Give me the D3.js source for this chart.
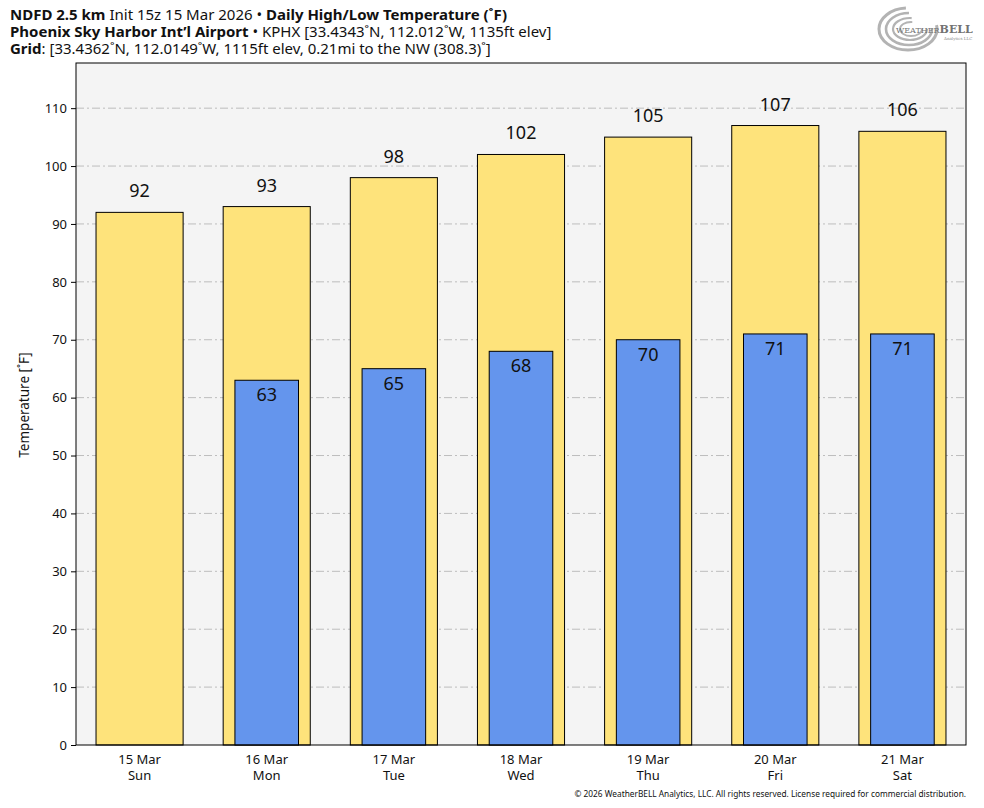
<!DOCTYPE html>
<html>
<head>
<meta charset="utf-8">
<script src="https://cdn.jsdelivr.net/npm/d3@7"></script>
<style>
  body { margin: 0; background: #fff; }
  text { font-family: 'Noto Sans', sans-serif; }
</style>
</head>
<body>
<div id="chart"></div>
<script>
// Data
var dates = ["15 Mar", "16 Mar", "17 Mar", "18 Mar", "19 Mar", "20 Mar", "21 Mar"];
var weekdays = ["Sun", "Mon", "Tue", "Wed", "Thu", "Fri", "Sat"];
var highs = [92, 93, 98, 102, 105, 107, 106];
var lows = [null, 63, 65, 68, 70, 71, 71];
var yTicks = [0, 10, 20, 30, 40, 50, 60, 70, 80, 90, 100, 110];

var W = 984, H = 808;
var margin = {top: 63, right: 18, bottom: 63, left: 76};
var width = W - margin.left - margin.right;
var height = H - margin.top - margin.bottom;

var svg = d3.select("#chart").append("svg")
    .attr("width", W)
    .attr("height", H);

//Scales
var x = d3.scaleBand().domain(d3.range(dates.length)).range([0, width]);
var y = d3.scaleLinear().domain([0, 117.8]).range([height, 0]);

var g = svg.append("g")
    .attr("transform", "translate(" + margin.left + "," + margin.top + ")");

//Plot background
g.append("rect")
    .attr("width", width)
    .attr("height", height)
    .attr("fill", "#f4f4f4");

//Grid
g.selectAll(".grid")
    .data(yTicks.slice(1))
    .enter().append("line")
    .attr("class", "grid")
    .attr("x1", 0).attr("x2", width)
    .attr("y1", function(d) { return y(d); })
    .attr("y2", function(d) { return y(d); })
    .attr("stroke", "#bdbdbd")
    .attr("stroke-width", 1)
    .attr("stroke-dasharray", "8,3,2,3");

var hw = x.bandwidth() * 0.685;
var lw = x.bandwidth() * 0.5;

//High bars
g.selectAll(".high")
    .data(highs)
    .enter().append("rect")
    .attr("class", "high")
    .attr("x", function(d, i) { return x(i) + (x.bandwidth() - hw) / 2; })
    .attr("y", function(d) { return y(d); })
    .attr("width", hw)
    .attr("height", function(d) { return height - y(d); })
    .attr("fill", "#fee37b")
    .attr("stroke", "#000")
    .attr("stroke-width", 1);

//Low bars
var lowData = lows.map(function(d, i) { return {v: d, i: i}; }).filter(function(d) { return d.v != null; });
g.selectAll(".low")
    .data(lowData)
    .enter().append("rect")
    .attr("class", "low")
    .attr("x", function(d) { return x(d.i) + (x.bandwidth() - lw) / 2; })
    .attr("y", function(d) { return y(d.v); })
    .attr("width", lw)
    .attr("height", function(d) { return height - y(d.v); })
    .attr("fill", "#6495ed")
    .attr("stroke", "#000")
    .attr("stroke-width", 1);

//Value labels
g.selectAll(".hlabel")
    .data(highs)
    .enter().append("text")
    .attr("x", function(d, i) { return x(i) + x.bandwidth() / 2; })
    .attr("y", function(d) { return y(d) - 15; })
    .attr("text-anchor", "middle")
    .style("font-size", "18px")
    .attr("fill", "#111")
    .text(function(d) { return d; });

g.selectAll(".llabel")
    .data(lowData)
    .enter().append("text")
    .attr("x", function(d) { return x(d.i) + x.bandwidth() / 2; })
    .attr("y", function(d) { return y(d.v) + 21; })
    .attr("text-anchor", "middle")
    .style("font-size", "18px")
    .attr("fill", "#111")
    .text(function(d) { return d.v; });

//Frame
g.append("rect")
    .attr("width", width)
    .attr("height", height)
    .attr("fill", "none")
    .attr("stroke", "#000")
    .attr("stroke-width", 1);

//Axes
var yAxis = d3.axisLeft(y).tickValues(yTicks).tickSize(5).tickPadding(4);
g.append("g")
    .attr("class", "y axis")
    .call(yAxis)
    .call(function(s) {
      s.select(".domain").remove();
      s.selectAll("text").style("font-size", "13px").style("font-family", "'Noto Sans', sans-serif").attr("fill", "#111");
    });

var xAxis = d3.axisBottom(x).tickSize(0).tickPadding(7).tickFormat(function() { return ""; });
var xg = g.append("g")
    .attr("class", "x axis")
    .attr("transform", "translate(0," + height + ")")
    .call(xAxis);
xg.select(".domain").remove();
xg.selectAll(".tick").each(function(d) {
  var t = d3.select(this).select("text");
  t.append("tspan").attr("x", 0).attr("dy", "0.9em").text(dates[d]);
  t.append("tspan").attr("x", 0).attr("dy", "1.25em").text(weekdays[d]);
});
xg.selectAll("text").style("font-size", "13px").style("font-family", "'Noto Sans', sans-serif").attr("fill", "#111");

//Y label
svg.append("text")
    .attr("transform", "translate(29," + (margin.top + height / 2 + 1) + ") rotate(-90)")
    .attr("text-anchor", "middle")
    .style("font-size", "13.5px")
    .attr("fill", "#111")
    .text("Temperature [\u02daF]");

//Title
var title = svg.append("g").style("font-size", "15px").attr("fill", "#111");
var t1 = title.append("text").attr("x", 10).attr("y", 20);
t1.append("tspan").attr("font-weight", "bold").text("NDFD 2.5 km");
t1.append("tspan").text(" Init 15z 15 Mar 2026 \u2022 ");
t1.append("tspan").attr("font-weight", "bold").text("Daily High/Low Temperature (\u02daF)");
var t2 = title.append("text").attr("x", 10).attr("y", 37);
t2.append("tspan").attr("font-weight", "bold").text("Phoenix Sky Harbor Int\u2019l Airport");
t2.append("tspan").text(" \u2022 KPHX [33.4343\u02daN, 112.012\u02daW, 1135ft elev]");
var t3 = title.append("text").attr("x", 10).attr("y", 54);
t3.append("tspan").attr("font-weight", "bold").text("Grid");
t3.append("tspan").text(": [33.4362\u02daN, 112.0149\u02daW, 1115ft elev, 0.21mi to the NW (308.3)\u02da]");

//Logo
var logo = svg.append("g").attr("transform", "translate(908,29)").attr("opacity", 0.75);
[[29, 21, 0], [23, 16, 1], [17, 11, 2], [11, 7, 3]].forEach(function(e) {
  logo.append("ellipse")
    .attr("rx", e[0]).attr("ry", e[1])
    .attr("cx", e[2]).attr("cy", 0)
    .attr("fill", "none")
    .attr("stroke", "#9a9a9a")
    .attr("stroke-width", 3 - e[2] * 0.4)
    .attr("stroke-dasharray", (e[0] * 4) + "," + (e[0] * 1.3));
});
var lt = logo.append("text")
    .attr("x", -12).attr("y", 4)
    .style("font-family", "'DejaVu Serif', serif")
    .attr("fill", "#444");
lt.append("tspan").style("font-size", "8px").text("WEATHER");
lt.append("tspan").style("font-size", "11px").attr("font-weight", "bold").text("BELL");
logo.append("text")
    .attr("x", 36).attr("y", 11)
    .style("font-family", "'DejaVu Serif', serif")
    .style("font-size", "4px")
    .attr("fill", "#666")
    .text("Analytics LLC");

//Footer
svg.append("text")
    .attr("x", 966)
    .attr("y", 797)
    .attr("text-anchor", "end")
    .style("font-size", "8.3px")
    .attr("fill", "#111")
    .text("\u00a9 2026 WeatherBELL Analytics, LLC. All rights reserved. License required for commercial distribution.");
</script>
</body>
</html>
